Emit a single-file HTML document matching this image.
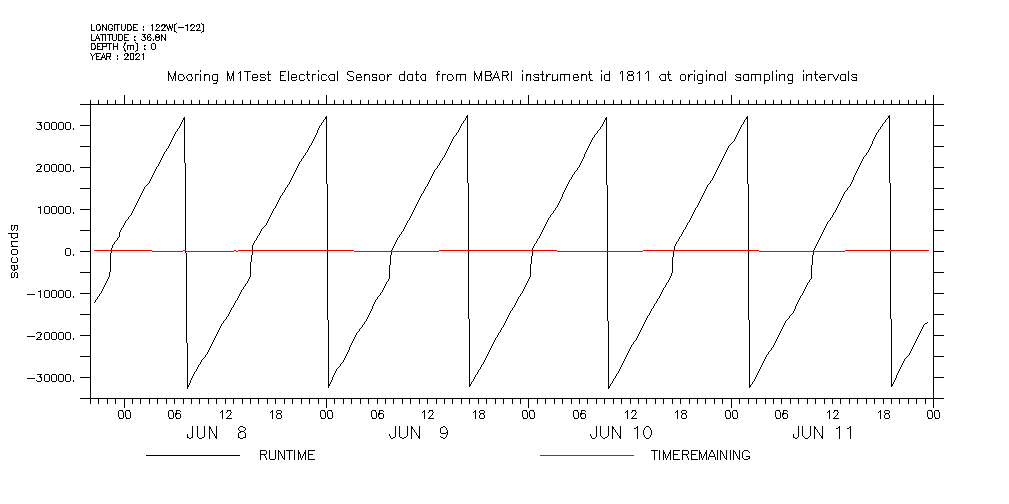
<!DOCTYPE html>
<html lang="en"><head><meta charset="utf-8"><title>Mooring M1Test Electrical Sensor data</title>
<style>
html,body{margin:0;padding:0;background:#fff}
body{width:1009px;height:504px;overflow:hidden;font-family:"Liberation Sans",sans-serif}
svg{display:block}
.k{stroke:#000;fill:none;stroke-width:1}
.r{stroke:#f00;fill:none;stroke-width:1}
</style></head>
<body>
<svg role="img" aria-label="Mooring M1Test Electrical Sensor chart with RUNTIME and TIMEREMAINING in seconds, JUN 8 to JUN 11 2021" width="1009" height="504" viewBox="0 0 1009 504" shape-rendering="crispEdges">
<rect width="1009" height="504" fill="#fff"/>
<g id="frame"><path class="k" d="M80 104.5H944M80 398.5H944M90.5 104V399M933.5 104V399"/></g>
<g id="yticks"><path class="k" d="M80 125.5H90M933 125.5H944M80 146.5H90M933 146.5H944M80 167.5H90M933 167.5H944M80 188.5H90M933 188.5H944M80 209.5H90M933 209.5H944M80 230.5H90M933 230.5H944M80 251.5H90M933 251.5H944M80 272.5H90M933 272.5H944M80 293.5H90M933 293.5H944M80 314.5H90M933 314.5H944M80 335.5H90M933 335.5H944M80 356.5H90M933 356.5H944M80 377.5H90M933 377.5H944"/></g>
<g id="xticks"><path class="k" d="M90.5 100V104M90.5 398V404M98.5 100V104M98.5 398V404M107.5 100V104M107.5 398V404M115.5 100V104M115.5 398V404M124.5 95V104M124.5 398V408M132.5 100V104M132.5 398V404M140.5 100V104M140.5 398V404M149.5 100V104M149.5 398V404M157.5 100V104M157.5 398V404M166.5 100V104M166.5 398V404M174.5 100V104M174.5 398V404M183.5 100V104M183.5 398V404M191.5 100V104M191.5 398V404M199.5 100V104M199.5 398V404M208.5 100V104M208.5 398V404M216.5 100V104M216.5 398V404M225.5 100V104M225.5 398V404M233.5 100V104M233.5 398V404M242.5 100V104M242.5 398V404M250.5 100V104M250.5 398V404M258.5 100V104M258.5 398V404M267.5 100V104M267.5 398V404M275.5 100V104M275.5 398V404M284.5 100V104M284.5 398V404M292.5 100V104M292.5 398V404M301.5 100V104M301.5 398V404M309.5 100V104M309.5 398V404M318.5 100V104M318.5 398V404M326.5 95V104M326.5 398V408M334.5 100V104M334.5 398V404M343.5 100V104M343.5 398V404M351.5 100V104M351.5 398V404M360.5 100V104M360.5 398V404M368.5 100V104M368.5 398V404M377.5 100V104M377.5 398V404M385.5 100V104M385.5 398V404M393.5 100V104M393.5 398V404M402.5 100V104M402.5 398V404M410.5 100V104M410.5 398V404M419.5 100V104M419.5 398V404M427.5 100V104M427.5 398V404M436.5 100V104M436.5 398V404M444.5 100V104M444.5 398V404M452.5 100V104M452.5 398V404M461.5 100V104M461.5 398V404M469.5 100V104M469.5 398V404M478.5 100V104M478.5 398V404M486.5 100V104M486.5 398V404M495.5 100V104M495.5 398V404M503.5 100V104M503.5 398V404M512.5 100V104M512.5 398V404M520.5 100V104M520.5 398V404M528.5 95V104M528.5 398V408M537.5 100V104M537.5 398V404M545.5 100V104M545.5 398V404M554.5 100V104M554.5 398V404M562.5 100V104M562.5 398V404M571.5 100V104M571.5 398V404M579.5 100V104M579.5 398V404M587.5 100V104M587.5 398V404M596.5 100V104M596.5 398V404M604.5 100V104M604.5 398V404M613.5 100V104M613.5 398V404M621.5 100V104M621.5 398V404M630.5 100V104M630.5 398V404M638.5 100V104M638.5 398V404M646.5 100V104M646.5 398V404M655.5 100V104M655.5 398V404M663.5 100V104M663.5 398V404M672.5 100V104M672.5 398V404M680.5 100V104M680.5 398V404M689.5 100V104M689.5 398V404M697.5 100V104M697.5 398V404M705.5 100V104M705.5 398V404M714.5 100V104M714.5 398V404M722.5 100V104M722.5 398V404M731.5 95V104M731.5 398V408M739.5 100V104M739.5 398V404M748.5 100V104M748.5 398V404M756.5 100V104M756.5 398V404M765.5 100V104M765.5 398V404M773.5 100V104M773.5 398V404M781.5 100V104M781.5 398V404M790.5 100V104M790.5 398V404M798.5 100V104M798.5 398V404M807.5 100V104M807.5 398V404M815.5 100V104M815.5 398V404M824.5 100V104M824.5 398V404M832.5 100V104M832.5 398V404M840.5 100V104M840.5 398V404M849.5 100V104M849.5 398V404M857.5 100V104M857.5 398V404M866.5 100V104M866.5 398V404M874.5 100V104M874.5 398V404M883.5 100V104M883.5 398V404M891.5 100V104M891.5 398V404M899.5 100V104M899.5 398V404M908.5 100V104M908.5 398V404M916.5 100V104M916.5 398V404M925.5 100V104M925.5 398V404M933.5 95V104M933.5 398V408"/></g>
<g id="series">
<path class="k" id="runtime" transform="translate(.5 0)" d="M94 302v1M95 300v2M96 299v1M97 297v2M98 296v1M99 294v2M100 293v1M101 291v2M102 289v2M103 287v2M104 285v2M105 283v2M106 281v2M107 279v2M108 277v2M109 272v5M110 253v19M111 248v5M112 245v3M113 244v1M114 242v2M115 241v1M116 240v1M117 238v2M118 237v1M119 232v5M120 230v2M121 228v2M122 227v1M123 225v2M124 223v2M125 221v2M126 220v1M127 219v1M128 217v2M129 216v1M130 215v1M131 213v2M132 211v2M133 209v2M134 207v2M135 205v2M136 203v2M137 201v2M138 199v2M139 197v2M140 195v2M141 193v2M142 191v2M143 189v2M144 187v2M145 186v1M146 185v1M147 184v1M148 183v1M149 181v2M150 179v2M151 177v2M152 175v2M153 173v2M154 171v2M155 169v2M156 167v2M157 166v1M158 164v2M159 162v2M160 160v2M161 158v2M162 156v2M163 154v2M164 152v2M165 151v1M166 149v2M167 148v1M168 146v2M169 144v2M170 142v2M171 140v2M172 138v2M173 136v2M174 134v2M175 132v2M176 131v1M177 129v2M178 128v1M179 126v2M180 124v2M181 122v2M182 120v2M183 118v2M184 117v46M185 163v90M186 253v90M187 343v46M188 385v2M189 383v2M190 380v3M191 378v2M192 376v2M193 374v2M194 372v2M195 371v1M196 369v2M197 367v2M198 365v2M199 364v1M200 362v2M201 360v2M202 359v1M203 358v1M204 357v1M205 355v2M206 354v1M207 352v2M208 350v2M209 348v2M210 346v2M211 344v2M212 342v2M213 340v2M214 338v2M215 336v2M216 334v2M217 332v2M218 330v2M219 328v2M220 326v2M221 324v2M222 323v1M223 321v2M224 320v1M225 319v1M226 317v2M227 316v1M228 314v2M229 312v2M230 310v2M231 308v2M232 307v1M233 305v2M234 303v2M235 301v2M236 300v1M237 298v2M238 296v2M239 294v2M240 292v2M241 290v2M242 289v1M243 287v2M244 286v1M245 284v2M246 283v1M247 281v2M248 279v2M249 277v2M250 262v15M251 255v7M252 245v10M253 243v2M254 241v2M255 240v1M256 238v2M257 236v2M258 235v1M259 233v2M260 231v2M261 229v2M262 228v1M263 227v1M264 226v1M265 225v1M266 223v2M267 221v2M268 219v2M269 217v2M270 215v2M271 213v2M272 211v2M273 209v2M274 208v1M275 206v2M276 204v2M277 202v2M278 200v2M279 198v2M280 196v2M281 195v1M282 193v2M283 192v1M284 190v2M285 188v2M286 187v1M287 185v2M288 184v1M289 182v2M290 180v2M291 178v2M292 176v2M293 174v2M294 172v2M295 170v2M296 168v2M297 166v2M298 164v2M299 162v2M300 161v1M301 159v2M302 158v1M303 156v2M304 155v1M305 153v2M306 152v1M307 150v2M308 148v2M309 146v2M310 145v1M311 143v2M312 141v2M313 139v2M314 137v2M315 135v2M316 133v2M317 130v3M318 128v2M319 126v2M320 125v1M321 123v2M322 122v1M323 120v2M324 119v1M325 117v2M326 116v68M327 184v136M328 320v68M329 384v2M330 382v2M331 380v2M332 377v3M333 375v2M334 373v2M335 371v2M336 369v2M337 368v1M338 367v1M339 366v1M340 364v2M341 363v1M342 362v1M343 360v2M344 358v2M345 356v2M346 354v2M347 352v2M348 350v2M349 347v3M350 345v2M351 343v2M352 341v2M353 339v2M354 337v2M355 335v2M356 333v2M357 332v1M358 331v1M359 329v2M360 328v1M361 327v1M362 325v2M363 324v1M364 322v2M365 321v1M366 319v2M367 317v2M368 315v2M369 313v2M370 311v2M371 309v2M372 306v3M373 304v2M374 302v2M375 300v2M376 299v1M377 297v2M378 296v1M379 295v1M380 293v2M381 292v1M382 290v2M383 288v2M384 286v2M385 284v2M386 282v2M387 281v1M388 279v2M389 265v14M390 255v10M391 250v5M392 248v2M393 246v2M394 244v2M395 242v2M396 240v2M397 238v2M398 237v1M399 235v2M400 234v1M401 232v2M402 231v1M403 229v2M404 227v2M405 225v2M406 223v2M407 221v2M408 220v1M409 218v2M410 216v2M411 214v2M412 212v2M413 210v2M414 208v2M415 206v2M416 204v2M417 202v2M418 200v2M419 198v2M420 196v2M421 194v2M422 193v1M423 191v2M424 189v2M425 187v2M426 186v1M427 184v2M428 182v2M429 180v2M430 178v2M431 176v2M432 174v2M433 172v2M434 170v2M435 169v1M436 168v1M437 166v2M438 165v1M439 163v2M440 161v2M441 160v1M442 158v2M443 157v1M444 155v2M445 153v2M446 151v2M447 149v2M448 147v2M449 145v2M450 143v2M451 141v2M452 139v2M453 137v2M454 136v1M455 135v1M456 133v2M457 132v1M458 130v2M459 128v2M460 126v2M461 124v2M462 123v1M463 121v2M464 120v1M465 118v2M466 116v2M467 115v68M468 183v136M469 319v68M470 384v2M471 382v2M472 381v1M473 379v2M474 377v2M475 375v2M476 374v1M477 372v2M478 370v2M479 369v1M480 367v2M481 365v2M482 364v1M483 362v2M484 360v2M485 358v2M486 356v2M487 354v2M488 352v2M489 350v2M490 348v2M491 346v2M492 344v2M493 342v2M494 340v2M495 338v2M496 337v1M497 335v2M498 333v2M499 332v1M500 330v2M501 328v2M502 327v1M503 325v2M504 323v2M505 321v2M506 319v2M507 317v2M508 315v2M509 313v2M510 311v2M511 310v1M512 308v2M513 307v1M514 305v2M515 303v2M516 301v2M517 299v2M518 297v2M519 296v1M520 294v2M521 293v1M522 291v2M523 289v2M524 287v2M525 285v2M526 283v2M527 281v2M528 279v2M529 277v2M530 264v13M531 256v8M532 248v8M533 246v2M534 244v2M535 243v1M536 241v2M537 239v2M538 238v1M539 236v2M540 234v2M541 232v2M542 230v2M543 228v2M544 226v2M545 224v2M546 222v2M547 220v2M548 218v2M549 217v1M550 215v2M551 214v1M552 213v1M553 211v2M554 210v1M555 208v2M556 207v1M557 205v2M558 203v2M559 201v2M560 199v2M561 197v2M562 194v3M563 192v2M564 190v2M565 188v2M566 186v2M567 184v2M568 182v2M569 180v2M570 179v1M571 177v2M572 175v2M573 174v1M574 172v2M575 171v1M576 170v1M577 168v2M578 167v1M579 165v2M580 163v2M581 161v2M582 159v2M583 157v2M584 154v3M585 152v2M586 150v2M587 148v2M588 146v2M589 144v2M590 142v2M591 140v2M592 138v2M593 137v1M594 135v2M595 134v1M596 133v1M597 131v2M598 130v1M599 129v1M600 127v2M601 126v1M602 124v2M603 122v2M604 120v2M605 118v2M606 117v68M607 185v136M608 321v68M609 386v2M610 384v2M611 383v1M612 381v2M613 379v2M614 378v1M615 376v2M616 374v2M617 373v1M618 371v2M619 369v2M620 367v2M621 365v2M622 363v2M623 361v2M624 359v2M625 357v2M626 355v2M627 353v2M628 351v2M629 349v2M630 347v2M631 345v2M632 344v1M633 342v2M634 341v1M635 340v1M636 338v2M637 336v2M638 334v2M639 332v2M640 330v2M641 328v2M642 326v2M643 324v2M644 322v2M645 320v2M646 318v2M647 316v2M648 315v1M649 313v2M650 311v2M651 309v2M652 308v1M653 306v2M654 304v2M655 303v1M656 301v2M657 299v2M658 298v1M659 296v2M660 294v2M661 292v2M662 290v2M663 288v2M664 287v1M665 285v2M666 283v2M667 282v1M668 280v2M669 278v2M670 276v2M671 273v3M672 257v16M673 250v7M674 246v4M675 244v2M676 242v2M677 241v1M678 239v2M679 237v2M680 236v1M681 234v2M682 232v2M683 230v2M684 229v1M685 227v2M686 225v2M687 223v2M688 222v1M689 220v2M690 218v2M691 216v2M692 214v2M693 212v2M694 210v2M695 208v2M696 207v1M697 205v2M698 203v2M699 201v2M700 199v2M701 197v2M702 195v2M703 193v2M704 191v2M705 189v2M706 187v2M707 185v2M708 184v1M709 183v1M710 181v2M711 180v1M712 178v2M713 176v2M714 174v2M715 172v2M716 170v2M717 168v2M718 166v2M719 164v2M720 162v2M721 160v2M722 158v2M723 156v2M724 154v2M725 152v2M726 150v2M727 148v2M728 146v2M729 145v1M730 144v1M731 143v1M732 142v1M733 141v1M734 139v2M735 137v2M736 135v2M737 133v2M738 131v2M739 129v2M740 127v2M741 125v2M742 124v1M743 122v2M744 120v2M745 119v1M746 117v2M747 116v68M748 184v136M749 320v68M750 385v2M751 384v1M752 382v2M753 381v1M754 379v2M755 377v2M756 375v2M757 373v2M758 371v2M759 369v2M760 367v2M761 365v2M762 363v2M763 361v2M764 359v2M765 357v2M766 355v2M767 354v1M768 352v2M769 351v1M770 350v1M771 348v2M772 347v1M773 345v2M774 343v2M775 341v2M776 339v2M777 337v2M778 335v2M779 333v2M780 331v2M781 329v2M782 327v2M783 325v2M784 323v2M785 321v2M786 320v1M787 319v1M788 318v1M789 316v2M790 315v1M791 314v1M792 313v1M793 311v2M794 309v2M795 306v3M796 304v2M797 302v2M798 300v2M799 298v2M800 296v2M801 295v1M802 293v2M803 291v2M804 289v2M805 287v2M806 285v2M807 283v2M808 282v1M809 280v2M810 279v1M811 265v14M812 255v10M813 250v5M814 248v2M815 246v2M816 244v2M817 242v2M818 240v2M819 238v2M820 236v2M821 234v2M822 232v2M823 230v2M824 228v2M825 226v2M826 224v2M827 222v2M828 221v1M829 220v1M830 218v2M831 217v1M832 215v2M833 213v2M834 212v1M835 210v2M836 208v2M837 206v2M838 204v2M839 202v2M840 200v2M841 198v2M842 196v2M843 194v2M844 192v2M845 191v1M846 190v1M847 188v2M848 187v1M849 186v1M850 184v2M851 182v2M852 180v2M853 177v3M854 175v2M855 173v2M856 171v2M857 169v2M858 167v2M859 165v2M860 163v2M861 161v2M862 159v2M863 157v2M864 156v1M865 155v1M866 153v2M867 152v1M868 150v2M869 148v2M870 146v2M871 144v2M872 141v3M873 139v2M874 137v2M875 135v2M876 133v2M877 132v1M878 130v2M879 129v1M880 127v2M881 126v1M882 124v2M883 123v1M884 122v1M885 120v2M886 119v1M887 118v1M888 116v2M889 115v68M890 183v136M891 319v68M892 384v2M893 382v2M894 380v2M895 378v2M896 375v3M897 373v2M898 371v2M899 369v2M900 367v2M901 365v2M902 363v2M903 361v2M904 359v2M905 358v1M906 357v1M907 356v1M908 355v1M909 353v2M910 351v2M911 349v2M912 347v2M913 345v2M914 343v2M915 341v2M916 339v2M917 337v2M918 335v2M919 333v2M920 331v2M921 329v2M922 327v2M923 325v2M924 324v1M925 323v1M926 323v1M927 322v1"><title>RUNTIME</title></path>
<path class="r" id="timeremaining" d="M94 250.5H152M152 251.5H183M183 250.5H186M186 251.5H234M234 250.5H236M236 251.5H238M238 250.5H354M354 251.5H439M439 250.5H557M557 251.5H643M643 250.5H759M759 251.5H845M845 250.5H929"><title>TIMEREMAINING</title></path>
</g>
<g id="labels">
<path class="k" transform="translate(.5 0)" d="M91 24v7M92 30v1M93 30v1M94 30v1M96 25v5M97 24v1M97 30v1M98 24v1M98 30v1M99 24v2M99 29v2M100 26v4M102 24v7M103 25v2M104 27v1M105 28v2M106 24v7M108 25v5M109 24v1M109 30v1M110 24v1M110 30v1M111 24v1M111 28v1M111 30v1M112 25v2M112 28v2M114 24v7M115 24v1M116 24v1M117 24v7M118 24v1M119 24v1M121 24v6M122 30v1M123 30v1M124 29v2M125 24v5M127 24v7M128 24v1M128 30v1M129 24v1M129 30v1M130 24v2M130 29v2M131 26v4M133 24v7M134 24v1M134 27v1M134 30v1M135 24v1M135 27v1M135 30v1M136 24v1M136 30v1M137 24v1M137 30v1M143 26v2M143 29v2M151 25v1M152 24v7M155 30v1M156 24v3M156 29v2M157 24v1M157 28v1M157 30v1M158 24v1M158 27v1M158 30v1M159 25v2M159 30v1M161 25v2M161 30v1M162 24v2M162 29v2M163 24v1M163 28v1M163 30v1M164 24v4M164 30v1M165 25v2M165 30v1M166 24v2M167 26v3M168 28v3M169 24v4M170 26v3M171 28v3M172 24v4M174 24v8M175 24v1M175 31v1M176 23v1M176 32v1M178 27v1M179 27v1M180 27v1M181 27v1M182 27v1M183 27v1M185 25v1M186 25v1M187 24v7M190 25v2M190 30v1M191 24v2M191 29v2M192 24v1M192 28v1M192 30v1M193 24v1M193 27v1M193 30v1M194 25v2M194 30v1M196 25v2M196 30v1M197 24v1M197 29v2M198 24v1M198 28v1M198 30v1M199 24v4M199 30v1M200 30v1M201 23v1M201 32v1M202 24v1M202 31v1M203 24v8"><title>LONGITUDE : 122W(-122)</title></path>
<path class="k" transform="translate(.5 0)" d="M91 34v7M92 40v1M93 40v1M94 40v1M95 39v2M96 36v3M97 34v2M97 38v1M98 36v3M99 38v3M100 34v1M101 34v1M102 34v7M103 34v1M104 34v1M105 34v7M107 34v1M108 34v1M109 34v7M110 34v1M111 34v1M112 34v6M113 40v1M114 40v1M115 40v1M116 34v6M118 34v7M119 34v1M119 40v1M120 34v1M120 40v1M121 34v1M121 40v1M122 35v5M124 34v7M125 34v1M125 37v1M125 40v1M126 34v1M126 37v1M126 40v1M127 34v1M127 40v1M128 34v1M128 40v1M134 36v2M134 39v2M135 36v1M135 40v1M141 39v1M142 34v1M142 40v1M143 34v1M143 36v1M143 40v1M144 34v4M144 40v1M145 34v1M145 37v3M147 35v5M148 34v1M148 37v1M148 40v1M149 34v1M149 36v1M149 40v1M150 34v2M150 37v1M150 39v2M151 38v1M153 39v2M155 35v5M156 34v1M156 36v2M156 40v1M157 34v1M157 37v1M157 40v1M158 34v1M158 36v2M158 40v1M159 35v5M161 34v7M162 35v2M163 37v1M164 38v2M165 34v7"><title>LATITUDE : 36.8N</title></path>
<path class="k" transform="translate(.5 0)" d="M91 43v7M92 43v1M92 49v1M93 43v1M93 49v1M94 43v2M94 48v2M95 45v4M97 43v7M98 43v1M98 46v1M98 49v1M99 43v1M99 46v1M99 49v1M100 43v1M100 49v1M101 43v1M101 49v1M102 43v7M103 43v1M103 46v1M104 43v1M104 46v1M105 43v1M105 46v1M106 43v4M107 43v1M108 43v1M109 43v7M110 43v1M111 43v1M113 43v7M114 46v1M115 46v1M116 46v1M117 43v7M123 46v2M124 43v3M124 48v3M125 42v2M125 50v2M127 45v5M128 45v1M129 45v1M130 45v5M131 45v1M132 45v1M133 45v5M135 42v1M135 51v1M136 43v1M136 50v1M137 43v8M144 45v2M144 48v2M145 45v1M145 49v1M151 44v5M152 43v1M152 49v1M153 43v1M153 49v1M154 43v1M154 49v1M155 44v5"><title>DEPTH (m) : 0</title></path>
<path class="k" transform="translate(.5 0)" d="M90 53v1M91 54v2M92 56v4M93 55v1M94 54v1M95 53v1M96 53v7M97 53v1M97 56v1M97 59v1M98 53v1M98 56v1M98 59v1M99 53v1M99 59v1M100 53v1M100 59v1M101 57v3M102 55v3M103 53v2M103 57v1M104 55v3M105 58v2M106 53v7M107 53v1M107 56v1M108 53v1M108 56v1M109 53v1M109 56v3M110 53v4M110 59v1M117 55v2M117 58v2M124 54v2M124 59v1M125 53v1M125 58v2M126 53v1M126 57v1M126 59v1M127 53v4M127 59v1M128 54v2M128 59v1M130 53v7M131 53v1M131 59v1M132 53v1M132 59v1M133 53v7M135 54v2M135 59v1M136 53v2M136 58v2M137 53v1M137 57v1M137 59v1M138 53v1M138 56v1M138 59v1M139 54v2M139 59v1M142 54v1M143 53v7"><title>YEAR : 2021</title></path>
<path class="k" id="title" transform="translate(.5 0)" d="M168 71v10M169 73v2M170 75v2M171 77v2M172 79v2M173 76v3M174 73v3M175 71v10M178 75v5M179 74v1M179 80v1M180 74v1M180 80v1M181 74v1M181 80v1M182 74v1M182 80v1M183 75v2M183 79v1M184 77v2M186 76v2M187 75v1M187 78v2M188 74v1M188 80v1M189 74v1M189 80v1M190 74v1M190 80v1M191 74v3M191 79v2M192 77v2M195 74v7M196 74v1M197 74v1M198 74v1M200 70v2M200 74v7M204 74v7M205 74v2M206 74v1M207 74v1M208 74v1M209 75v6M212 75v5M213 74v1M213 80v1M213 83v1M214 74v1M214 80v1M214 83v1M215 74v1M215 80v1M215 83v1M216 74v1M216 80v1M216 82v2M217 74v8M227 71v10M228 73v3M229 76v3M230 79v2M231 76v3M232 73v3M233 71v10M238 73v1M239 72v1M240 71v10M244 71v1M245 71v1M246 71v1M247 71v10M248 71v1M249 71v1M250 71v1M252 75v5M253 74v1M253 77v1M253 80v1M254 74v1M254 77v1M254 80v1M255 74v1M255 77v1M255 80v1M256 74v1M256 77v1M256 80v1M257 75v3M257 79v1M260 74v3M260 79v2M261 74v1M261 77v1M261 80v1M262 74v1M262 77v1M262 80v1M263 74v1M263 77v1M263 80v1M264 74v1M264 77v1M264 80v1M265 75v1M265 78v2M267 74v1M268 71v10M269 74v1M269 80v1M270 74v1M270 80v1M280 71v10M281 71v1M281 75v1M281 80v1M282 71v1M282 75v1M282 80v1M283 71v1M283 75v1M283 80v1M284 71v1M284 80v1M285 71v1M285 80v1M288 71v10M291 75v5M292 74v1M292 77v1M292 80v1M293 74v1M293 77v1M293 80v1M294 74v1M294 77v1M294 80v1M295 74v1M295 77v1M295 80v1M296 75v3M296 79v1M299 75v5M300 74v1M300 80v1M301 74v1M301 80v1M302 74v1M302 80v1M303 74v1M303 80v1M304 75v1M304 79v1M306 74v1M307 71v8M308 74v1M308 79v2M309 74v1M309 80v1M312 74v7M313 74v1M314 74v1M315 74v1M318 70v2M318 74v7M321 75v5M322 74v1M322 80v1M323 74v1M323 80v1M324 74v1M324 80v1M325 74v1M325 80v1M326 75v1M326 79v1M328 76v2M329 75v1M329 78v2M330 74v1M330 80v1M331 74v1M331 80v1M332 74v1M332 80v1M333 74v1M333 80v1M334 74v7M337 71v10M347 72v3M347 79v1M348 71v1M348 74v1M348 80v1M349 71v1M349 75v1M349 80v1M350 71v1M350 76v1M350 80v1M351 71v1M351 76v1M351 80v1M352 71v1M352 76v1M352 80v1M353 72v1M353 77v3M356 75v5M357 74v1M357 77v1M357 80v1M358 74v1M358 77v1M358 80v1M359 74v1M359 77v1M359 80v1M360 74v2M360 77v1M360 80v1M361 76v2M361 79v1M364 74v7M365 74v2M366 74v1M367 74v1M368 74v1M369 75v6M372 74v3M372 79v2M373 74v1M373 77v1M373 80v1M374 74v1M374 77v1M374 80v1M375 74v1M375 77v1M375 80v1M376 74v2M376 77v4M379 75v5M380 74v1M380 80v1M381 74v1M381 80v1M382 74v1M382 80v1M383 74v1M383 80v1M384 75v5M387 74v7M388 75v2M389 74v1M390 74v1M391 74v1M399 75v5M400 74v1M400 80v1M401 74v1M401 80v1M402 74v1M402 80v1M403 74v1M403 80v1M404 71v10M407 75v5M408 74v1M408 80v1M409 74v1M409 80v1M410 74v1M410 80v1M411 74v1M411 80v1M412 74v7M415 74v1M416 71v10M417 74v1M417 80v1M418 74v1M418 80v1M420 76v2M421 75v1M421 78v2M422 74v1M422 80v1M423 74v1M423 80v1M424 74v1M424 80v1M425 74v7M436 74v1M437 72v9M438 71v1M438 74v1M439 71v1M439 74v1M442 74v7M443 74v1M444 74v1M445 74v1M447 75v5M448 74v1M448 80v1M449 74v1M449 80v1M450 74v1M450 80v1M451 74v1M451 80v1M452 75v2M452 79v1M453 77v2M456 74v7M457 74v1M458 74v1M459 74v1M460 74v7M461 74v1M462 74v1M463 74v1M464 74v1M465 74v7M474 71v10M475 73v2M476 75v2M477 77v2M478 79v2M479 76v3M480 73v3M481 71v10M485 71v10M486 71v1M486 75v1M486 80v1M487 71v1M487 75v1M487 80v1M488 71v1M488 75v1M488 80v1M489 71v1M489 75v1M489 80v1M490 71v2M490 74v3M490 79v2M491 73v2M491 77v2M492 79v2M493 77v2M494 75v3M495 73v2M495 77v1M496 71v2M496 77v1M497 73v3M497 77v1M498 76v3M499 79v2M502 71v10M503 71v1M503 75v1M504 71v1M504 75v1M505 71v1M505 75v1M506 71v1M506 75v3M507 71v2M507 74v2M507 78v2M508 73v2M508 80v1M511 71v10M522 70v2M522 74v7M526 74v7M527 74v2M528 74v1M529 74v1M530 74v7M533 75v1M533 79v1M534 74v1M534 76v1M534 80v1M535 74v1M535 77v1M535 80v1M536 74v1M536 77v1M536 80v1M537 74v1M537 77v1M537 80v1M538 74v2M538 77v4M540 74v1M541 74v1M542 71v10M543 74v1M543 80v1M544 80v1M546 74v7M547 75v2M548 74v1M549 74v1M550 74v1M552 74v7M553 80v1M554 80v1M555 80v1M556 79v1M557 74v7M560 74v7M561 74v1M562 74v1M563 74v1M564 74v7M565 74v1M566 74v1M567 74v1M568 74v1M569 74v7M573 75v5M574 74v1M574 77v1M574 80v1M575 74v1M575 77v1M575 80v1M576 74v1M576 77v1M576 80v1M577 74v2M577 77v1M577 80v1M578 76v2M578 79v1M581 74v7M582 74v2M583 74v1M584 74v1M585 74v1M586 75v6M588 74v1M589 71v8M590 74v1M590 79v2M591 74v1M591 80v1M592 80v1M601 70v2M601 74v7M604 75v5M605 74v1M605 80v1M606 74v1M606 80v1M607 74v1M607 80v1M608 74v1M608 80v1M609 71v10M620 72v2M621 71v1M622 71v10M627 72v2M627 76v4M628 71v1M628 74v2M628 80v1M629 71v1M629 74v2M629 80v1M630 71v1M630 75v1M630 80v1M631 71v1M631 74v2M631 80v1M632 71v1M632 74v2M632 80v1M633 72v2M633 76v4M637 73v1M638 72v1M639 71v10M645 73v1M646 72v1M647 71v1M648 71v10M659 76v2M660 75v1M660 78v2M661 74v1M661 80v1M662 74v1M662 80v1M663 74v1M663 80v1M664 74v1M664 80v1M665 74v7M667 74v1M668 71v8M669 74v1M669 79v2M670 74v1M670 80v1M671 80v1M680 75v5M681 74v1M681 80v1M682 74v1M682 80v1M683 74v1M683 80v1M684 74v1M684 80v1M685 75v5M688 74v7M689 75v2M690 74v1M691 74v1M692 74v1M694 70v2M694 74v7M697 75v5M698 74v1M698 80v1M698 83v1M699 74v1M699 80v1M699 83v1M700 74v1M700 80v1M700 83v1M701 74v1M701 80v1M701 83v1M702 74v9M706 70v2M706 74v7M709 74v7M710 74v2M711 74v1M712 74v1M713 74v1M714 75v6M717 75v5M718 74v1M718 80v1M719 74v1M719 80v1M720 74v1M720 80v1M721 74v1M721 80v1M722 74v7M725 71v10M735 75v1M735 79v1M736 74v1M736 76v1M736 80v1M737 74v1M737 77v1M737 80v1M738 74v1M738 77v1M738 80v1M739 74v1M739 77v1M739 80v1M740 74v2M740 77v4M743 75v5M744 74v1M744 80v1M745 74v1M745 80v1M746 74v1M746 80v1M747 74v1M747 80v1M748 74v7M751 74v7M752 74v1M753 74v1M754 74v1M755 74v7M756 74v1M757 74v1M758 74v1M759 74v1M760 74v7M764 74v10M765 74v1M765 80v1M766 74v1M766 80v1M767 74v1M767 80v1M768 74v1M768 80v1M769 75v5M772 71v10M776 70v2M776 74v7M779 74v7M780 75v1M781 74v1M782 74v1M783 74v1M784 74v7M787 76v2M788 74v2M788 78v3M788 83v1M789 74v1M789 80v1M789 83v1M790 74v1M790 80v1M790 83v1M791 74v1M791 80v1M791 83v1M792 74v9M803 70v2M803 74v7M806 74v7M807 75v1M808 74v1M809 74v1M810 74v1M811 74v7M814 74v1M815 71v8M816 74v1M816 79v2M817 74v1M817 80v1M819 76v2M820 75v1M820 77v3M821 74v1M821 77v1M821 80v1M822 74v1M822 77v1M822 80v1M823 74v1M823 77v1M823 80v1M824 74v2M824 77v1M824 80v1M825 76v2M825 79v1M828 74v7M829 74v1M830 74v1M831 74v1M832 74v1M833 75v2M834 77v2M835 79v2M836 78v2M837 76v2M838 74v2M840 75v5M841 74v1M841 80v1M842 74v1M842 80v1M843 74v1M843 80v1M844 74v1M844 80v1M845 74v7M848 71v10M851 75v1M851 79v1M852 74v1M852 76v1M852 80v1M853 74v1M853 77v1M853 80v1M854 74v1M854 77v1M854 80v1M855 74v1M855 77v1M855 80v1M856 74v2M856 77v4"><title>Mooring M1Test Electrical Sensor data from MBARI instrument id 1811 at original sampling intervals</title></path>
<path class="k" transform="translate(.5 0)" d="M36 128v1M37 122v1M37 129v1M38 122v1M38 129v1M39 122v1M39 124v1M39 129v1M40 122v4M40 129v1M41 122v1M41 125v4M44 123v6M45 122v1M45 129v1M46 122v1M46 129v1M47 122v1M47 129v1M48 122v1M48 129v1M49 123v6M51 123v6M52 122v1M52 129v1M53 122v1M53 129v1M54 122v1M54 129v1M55 122v1M55 129v1M56 123v6M58 123v6M59 122v1M59 129v1M60 122v1M60 129v1M61 122v1M61 129v1M62 122v1M62 129v1M63 123v6M65 123v6M66 122v1M66 129v1M67 122v1M67 129v1M68 122v1M68 129v1M69 122v1M69 129v1M70 123v6M73 128v2"><title>30000.</title></path>
<path class="k" transform="translate(.5 0)" d="M36 165v1M36 171v1M37 164v1M37 170v2M38 164v1M38 169v1M38 171v1M39 164v1M39 169v1M39 171v1M40 164v1M40 166v3M40 171v1M41 165v2M41 171v1M44 165v6M45 164v1M45 171v1M46 164v1M46 171v1M47 164v1M47 171v1M48 164v1M48 171v1M49 165v6M51 165v6M52 164v1M52 171v1M53 164v1M53 171v1M54 164v1M54 171v1M55 164v1M55 171v1M56 165v6M58 165v6M59 164v1M59 171v1M60 164v1M60 171v1M61 164v1M61 171v1M62 164v1M62 171v1M63 165v6M65 165v6M66 164v1M66 171v1M67 164v1M67 171v1M68 164v1M68 171v1M69 164v1M69 171v1M70 165v6M73 170v2"><title>20000.</title></path>
<path class="k" transform="translate(.5 0)" d="M38 207v1M39 207v1M40 206v8M44 207v6M45 206v1M45 213v1M46 206v1M46 213v1M47 206v1M47 213v1M48 206v1M48 213v1M49 207v6M51 207v6M52 206v1M52 213v1M53 206v1M53 213v1M54 206v1M54 213v1M55 206v1M55 213v1M56 207v6M58 207v6M59 206v1M59 213v1M60 206v1M60 213v1M61 206v1M61 213v1M62 206v1M62 213v1M63 207v6M65 207v6M66 206v1M66 213v1M67 206v1M67 213v1M68 206v1M68 213v1M69 206v1M69 213v1M70 207v6M73 212v2"><title>10000.</title></path>
<path class="k" transform="translate(.5 0)" d="M65 249v6M66 248v1M66 255v1M67 248v1M67 255v1M68 248v1M68 255v1M69 248v1M69 255v1M70 249v6M73 254v2"><title>0.</title></path>
<path class="k" transform="translate(.5 0)" d="M27 294v1M28 294v1M29 294v1M30 294v1M31 294v1M32 294v1M33 294v1M34 294v1M38 291v1M39 291v1M40 290v8M44 291v6M45 290v1M45 297v1M46 290v1M46 297v1M47 290v1M47 297v1M48 290v1M48 297v1M49 291v6M51 291v6M52 290v1M52 297v1M53 290v1M53 297v1M54 290v1M54 297v1M55 290v1M55 297v1M56 291v6M58 291v6M59 290v1M59 297v1M60 290v1M60 297v1M61 290v1M61 297v1M62 290v1M62 297v1M63 291v6M65 291v6M66 290v1M66 297v1M67 290v1M67 297v1M68 290v1M68 297v1M69 290v1M69 297v1M70 291v6M73 296v2"><title>-10000.</title></path>
<path class="k" transform="translate(.5 0)" d="M27 336v1M28 336v1M29 336v1M30 336v1M31 336v1M32 336v1M33 336v1M34 336v1M36 333v1M36 339v1M37 332v1M37 338v2M38 332v1M38 337v1M38 339v1M39 332v1M39 337v1M39 339v1M40 332v1M40 334v3M40 339v1M41 333v2M41 339v1M44 333v6M45 332v1M45 339v1M46 332v1M46 339v1M47 332v1M47 339v1M48 332v1M48 339v1M49 333v6M51 333v6M52 332v1M52 339v1M53 332v1M53 339v1M54 332v1M54 339v1M55 332v1M55 339v1M56 333v6M58 333v6M59 332v1M59 339v1M60 332v1M60 339v1M61 332v1M61 339v1M62 332v1M62 339v1M63 333v6M65 333v6M66 332v1M66 339v1M67 332v1M67 339v1M68 332v1M68 339v1M69 332v1M69 339v1M70 333v6M73 338v2"><title>-20000.</title></path>
<path class="k" transform="translate(.5 0)" d="M27 378v1M28 378v1M29 378v1M30 378v1M31 378v1M32 378v1M33 378v1M34 378v1M36 380v1M37 374v1M37 381v1M38 374v1M38 381v1M39 374v1M39 376v1M39 381v1M40 374v4M40 381v1M41 374v1M41 377v4M44 375v6M45 374v1M45 381v1M46 374v1M46 381v1M47 374v1M47 381v1M48 374v1M48 381v1M49 375v6M51 375v6M52 374v1M52 381v1M53 374v1M53 381v1M54 374v1M54 381v1M55 374v1M55 381v1M56 375v6M58 375v6M59 374v1M59 381v1M60 374v1M60 381v1M61 374v1M61 381v1M62 374v1M62 381v1M63 375v6M65 375v6M66 374v1M66 381v1M67 374v1M67 381v1M68 374v1M68 381v1M69 374v1M69 381v1M70 375v6M73 380v2"><title>-30000.</title></path>
<path class="k" transform="translate(.5 0)" d="M118 411v6M119 410v1M119 417v2M120 410v1M120 418v1M121 410v1M121 418v1M122 410v2M122 418v1M123 412v6M125 411v6M126 410v1M126 417v2M127 410v1M127 418v1M128 410v1M128 418v1M129 410v2M129 418v1M130 412v6"><title>00</title></path>
<path class="k" transform="translate(.5 0)" d="M168 411v6M169 410v1M169 417v2M170 410v1M170 418v1M171 410v1M171 418v1M172 410v2M172 418v1M173 412v6M175 413v4M176 410v5M176 417v2M177 410v1M177 413v1M177 418v1M178 410v1M178 413v1M178 418v1M179 410v1M179 413v1M179 418v1M180 411v1M180 414v4"><title>06</title></path>
<path class="k" transform="translate(.5 0)" d="M220 412v1M221 411v1M222 410v9M226 412v1M226 418v1M227 410v2M227 417v2M228 410v1M228 416v1M228 418v1M229 410v1M229 415v1M229 418v1M230 410v2M230 413v2M230 418v1M231 412v1M231 418v1"><title>12</title></path>
<path class="k" transform="translate(.5 0)" d="M270 412v1M271 411v1M272 410v9M276 411v2M276 415v3M277 410v1M277 413v2M277 418v1M278 410v1M278 413v1M278 418v1M279 410v1M279 413v1M279 418v1M280 410v1M280 413v2M280 418v1M281 411v2M281 415v3"><title>18</title></path>
<path class="k" transform="translate(.5 0)" d="M320 411v6M321 410v1M321 417v2M322 410v1M322 418v1M323 410v1M323 418v1M324 410v2M324 418v1M325 412v6M327 411v6M328 410v1M328 417v2M329 410v1M329 418v1M330 410v1M330 418v1M331 410v2M331 418v1M332 412v6"><title>00</title></path>
<path class="k" transform="translate(.5 0)" d="M371 411v6M372 410v1M372 417v2M373 410v1M373 418v1M374 410v1M374 418v1M375 410v2M375 418v1M376 412v6M378 413v4M379 410v5M379 417v2M380 410v1M380 413v1M380 418v1M381 410v1M381 413v1M381 418v1M382 410v1M382 413v1M382 418v1M383 411v1M383 414v4"><title>06</title></path>
<path class="k" transform="translate(.5 0)" d="M422 412v1M423 411v1M424 410v9M428 412v1M428 418v1M429 410v2M429 417v2M430 410v1M430 416v1M430 418v1M431 410v1M431 415v1M431 418v1M432 410v2M432 413v2M432 418v1M433 412v1M433 418v1"><title>12</title></path>
<path class="k" transform="translate(.5 0)" d="M473 412v1M474 411v1M475 410v9M479 411v2M479 415v3M480 410v1M480 413v2M480 418v1M481 410v1M481 413v1M481 418v1M482 410v1M482 413v1M482 418v1M483 410v1M483 413v2M483 418v1M484 411v2M484 415v3"><title>18</title></path>
<path class="k" transform="translate(.5 0)" d="M522 411v6M523 410v1M523 417v2M524 410v1M524 418v1M525 410v1M525 418v1M526 410v2M526 418v1M527 412v6M529 411v6M530 410v1M530 417v2M531 410v1M531 418v1M532 410v1M532 418v1M533 410v2M533 418v1M534 412v6"><title>00</title></path>
<path class="k" transform="translate(.5 0)" d="M573 411v6M574 410v1M574 417v2M575 410v1M575 418v1M576 410v1M576 418v1M577 410v2M577 418v1M578 412v6M580 413v4M581 410v5M581 417v2M582 410v1M582 413v1M582 418v1M583 410v1M583 413v1M583 418v1M584 410v1M584 413v1M584 418v1M585 411v1M585 414v4"><title>06</title></path>
<path class="k" transform="translate(.5 0)" d="M625 412v1M626 411v1M627 410v9M631 412v1M631 418v1M632 410v2M632 417v2M633 410v1M633 416v1M633 418v1M634 410v1M634 415v1M634 418v1M635 410v2M635 413v2M635 418v1M636 412v1M636 418v1"><title>12</title></path>
<path class="k" transform="translate(.5 0)" d="M675 412v1M676 411v1M677 410v9M681 411v2M681 415v3M682 410v1M682 413v2M682 418v1M683 410v1M683 413v1M683 418v1M684 410v1M684 413v1M684 418v1M685 410v1M685 413v2M685 418v1M686 411v2M686 415v3"><title>18</title></path>
<path class="k" transform="translate(.5 0)" d="M725 411v6M726 410v1M726 417v2M727 410v1M727 418v1M728 410v1M728 418v1M729 410v2M729 418v1M730 412v6M732 411v6M733 410v1M733 417v2M734 410v1M734 418v1M735 410v1M735 418v1M736 410v2M736 418v1M737 412v6"><title>00</title></path>
<path class="k" transform="translate(.5 0)" d="M775 411v6M776 410v1M776 417v2M777 410v1M777 418v1M778 410v1M778 418v1M779 410v2M779 418v1M780 412v6M782 413v4M783 410v5M783 417v2M784 410v1M784 413v1M784 418v1M785 410v1M785 413v1M785 418v1M786 410v1M786 413v1M786 418v1M787 411v1M787 414v4"><title>06</title></path>
<path class="k" transform="translate(.5 0)" d="M827 412v1M828 411v1M829 410v9M833 412v1M833 418v1M834 410v2M834 417v2M835 410v1M835 416v1M835 418v1M836 410v1M836 415v1M836 418v1M837 410v2M837 413v2M837 418v1M838 412v1M838 418v1"><title>12</title></path>
<path class="k" transform="translate(.5 0)" d="M878 412v1M879 411v1M880 410v9M884 411v2M884 415v3M885 410v1M885 413v2M885 418v1M886 410v1M886 413v1M886 418v1M887 410v1M887 413v1M887 418v1M888 410v1M888 413v2M888 418v1M889 411v2M889 415v3"><title>18</title></path>
<path class="k" transform="translate(.5 0)" d="M927 411v6M928 410v1M928 417v2M929 410v1M929 418v1M930 410v1M930 418v1M931 410v2M931 418v1M932 412v6M934 411v6M935 410v1M935 417v2M936 410v1M936 418v1M937 410v1M937 418v1M938 410v2M938 418v1M939 412v6"><title>00</title></path>
<path class="k" transform="translate(.5 0)" d="M187 434v4M188 437v1M189 438v1M190 438v1M191 437v1M192 426v12M197 426v11M198 437v1M199 438v1M200 438v1M201 438v1M202 437v1M203 437v1M204 426v11M209 426v13M210 427v2M211 429v2M212 431v2M213 433v1M214 434v2M215 436v2M216 426v13M238 428v2M238 433v5M239 427v1M239 430v1M239 432v1M239 437v1M240 426v1M240 431v2M240 438v1M241 426v1M241 431v1M241 438v1M242 426v1M242 431v1M242 438v1M243 427v1M243 431v1M243 437v1M244 427v1M244 430v1M244 432v1M244 437v1M245 428v2M245 433v5"><title>JUN  8</title></path>
<path class="k" transform="translate(.5 0)" d="M389 434v2M390 436v2M391 438v1M392 438v1M393 437v1M394 437v1M395 426v11M399 426v11M400 437v1M401 437v1M402 438v1M403 438v1M404 437v1M405 437v1M406 436v1M407 426v10M411 426v13M412 427v2M413 429v1M414 430v2M415 432v1M416 433v2M417 435v1M418 436v2M419 426v13M440 428v5M440 436v1M441 427v1M441 433v1M441 437v1M442 427v1M442 433v1M442 437v1M443 426v1M443 433v1M443 438v1M444 426v1M444 433v1M444 438v1M445 427v1M445 433v1M445 437v1M446 428v2M446 432v1M446 435v2M447 430v5"><title>JUN  9</title></path>
<path class="k" transform="translate(.5 0)" d="M590 434v2M591 436v2M592 438v1M593 438v1M594 438v1M595 437v1M596 426v11M600 426v10M601 436v1M602 437v1M603 438v1M604 438v1M605 437v1M606 437v1M607 436v1M608 426v10M612 426v13M613 427v2M614 429v1M615 430v2M616 432v1M617 433v2M618 435v1M619 436v2M620 426v13M634 428v1M635 428v1M636 427v1M637 426v13M643 430v5M644 428v2M644 435v2M645 427v1M645 437v1M646 426v1M646 438v1M647 426v1M647 438v1M648 426v1M648 438v1M649 427v1M649 437v1M650 428v2M650 435v2M651 430v5"><title>JUN 10</title></path>
<path class="k" transform="translate(.5 0)" d="M793 434v4M794 437v1M795 438v1M796 438v1M797 437v1M798 426v11M802 426v10M803 436v1M804 437v1M805 438v1M806 438v1M807 438v1M808 437v1M809 436v1M810 426v10M814 426v13M815 427v2M816 429v1M817 430v2M818 432v1M819 433v2M820 435v1M821 436v2M822 426v13M836 428v1M837 428v1M838 427v1M839 426v13M847 428v1M848 428v1M849 427v1M850 426v13"><title>JUN 11</title></path>
<path class="k" id="ytitle" transform="translate(.5 0)" d="M8 233v1M9 233v1M10 233v1M11 225v5M11 233v5M11 241v4M11 246v1M11 250v4M11 258v4M11 265v4M11 273v5M12 225v1M12 230v1M12 233v1M12 237v1M12 241v1M12 245v2M12 249v1M12 254v1M12 257v1M12 262v1M12 265v1M12 269v1M12 272v1M12 277v1M13 229v1M13 233v1M13 238v1M13 241v1M13 246v1M13 249v1M13 254v1M13 262v1M13 265v1M13 270v1M13 277v1M14 225v4M14 233v1M14 238v1M14 241v1M14 246v1M14 249v1M14 254v1M14 262v1M14 265v6M14 273v4M15 225v1M15 233v1M15 237v1M15 241v1M15 246v1M15 249v1M15 254v1M15 262v1M15 269v1M15 272v1M16 225v1M16 230v1M16 233v1M16 237v1M16 241v1M16 246v1M16 249v1M16 254v1M16 257v1M16 262v1M16 265v1M16 269v1M16 272v1M16 277v1M17 225v5M17 233v5M17 241v1M17 246v1M17 250v4M17 258v4M17 265v4M17 273v5"><title>seconds</title></path>
</g>
<g id="legend"><path class="k" d="M146 455.5H240"/><path class="r" d="M540 455.5H634"/>
<path class="k" id="lg-runtime" transform="translate(.5 0)" d="M260 450v10M261 450v1M261 454v1M262 450v1M262 454v1M263 450v1M263 454v1M264 450v1M264 454v2M265 450v1M265 454v1M265 456v2M266 451v3M266 458v2M269 450v9M270 459v1M271 459v1M272 459v1M273 459v1M274 459v1M275 450v9M278 450v10M279 451v1M280 452v2M281 454v2M282 456v2M283 458v1M284 450v10M286 450v1M287 450v1M288 450v1M289 450v10M290 450v1M291 450v1M292 450v1M294 450v10M298 450v10M299 452v2M300 454v4M301 458v2M302 456v2M303 454v2M304 452v2M305 450v10M308 450v10M309 450v1M309 454v1M309 459v1M310 450v1M310 454v1M310 459v1M311 450v1M311 454v1M311 459v1M312 450v1M312 454v1M312 459v1M313 450v1M313 459v1M314 450v1M314 459v1"><title>RUNTIME</title></path>
<path class="k" id="lg-timeremaining" transform="translate(.5 0)" d="M651 450v1M652 450v1M653 450v1M654 450v10M655 450v1M656 450v1M657 450v1M659 450v10M663 450v10M664 452v2M665 454v4M666 458v2M667 456v2M668 454v2M669 452v2M670 450v10M673 450v10M674 450v1M674 454v1M674 459v1M675 450v1M675 454v1M675 459v1M676 450v1M676 454v1M676 459v1M677 450v1M677 454v1M677 459v1M678 450v1M678 459v1M679 450v1M679 459v1M682 450v10M683 450v1M683 454v1M684 450v1M684 454v1M685 450v1M685 454v1M686 450v1M686 454v2M687 450v1M687 454v1M687 456v2M688 451v3M688 458v2M691 450v10M692 450v1M692 454v1M692 459v1M693 450v1M693 454v1M693 459v1M694 450v1M694 454v1M694 459v1M695 450v1M695 454v1M695 459v1M696 450v1M696 459v1M697 450v1M697 459v1M699 450v10M700 452v2M701 454v4M702 458v2M703 456v2M704 454v2M705 452v2M706 450v10M708 457v3M709 454v3M710 452v2M710 456v1M711 450v2M711 456v1M712 450v2M712 456v1M713 452v2M713 456v1M714 454v3M715 457v3M717 450v10M720 450v10M721 451v1M722 452v2M723 454v2M724 456v2M725 458v1M726 450v10M730 450v10M733 450v10M734 451v1M735 452v2M736 454v2M737 456v2M738 458v1M739 450v10M742 452v6M743 451v1M743 458v1M744 450v1M744 459v1M745 450v1M745 459v1M746 450v1M746 456v1M746 459v1M747 450v1M747 456v1M747 459v1M748 451v1M748 456v1M748 458v1M749 452v1M749 456v3"><title>TIMEREMAINING</title></path>
</g>
</svg>
</body></html>
